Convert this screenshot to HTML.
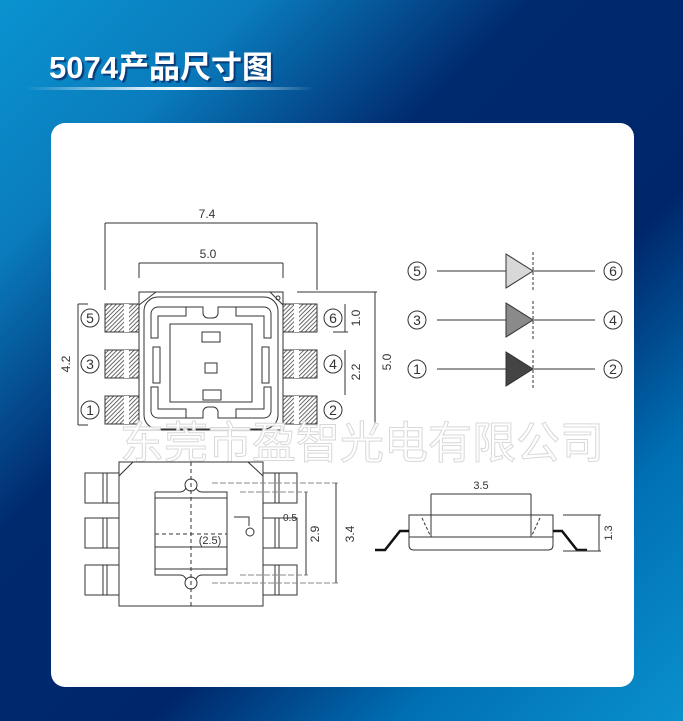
<!DOCTYPE html>
<html><head><meta charset="utf-8"><style>
html,body{margin:0;padding:0}
body{width:683px;height:721px;position:relative;overflow:hidden;font-family:"Liberation Sans","Noto Sans CJK SC",sans-serif;background:linear-gradient(135deg,#0a93d0 0%,#0a7cbd 18%,#002a6e 38%,#00266a 62%,#0070b4 80%,#0a90cc 100%)}
.title{position:absolute;left:49px;top:42px;font-size:31px;font-weight:bold;color:#fff;text-shadow:2px 2px 1px #0a3a78;font-family:"Liberation Sans","Noto Sans CJK SC",sans-serif}
.uline{position:absolute;left:25px;top:87px;width:290px;height:3px;background:linear-gradient(90deg,rgba(255,255,255,0),#cfe9f7 40%,#fff 55%,rgba(255,255,255,0))}
.card{position:absolute;left:51px;top:123px;width:583px;height:564px;background:#fff;border-radius:14px}
svg{position:absolute;left:0;top:0}
</style></head><body>
<div class="title">5074产品尺寸图</div>
<div class="uline"></div>
<div class="card"></div>
<svg width="683" height="721" viewBox="0 0 683 721">
<defs>
<pattern id="h" width="3" height="3" patternUnits="userSpaceOnUse" patternTransform="rotate(45)"><rect width="3" height="3" fill="#fff"/><line x1="0" y1="0" x2="0" y2="3" stroke="#444" stroke-width="1.6"/></pattern>
</defs>
<g fill="none" stroke="#333" stroke-width="1" font-family="Liberation Sans,sans-serif">
<line x1="105" y1="223" x2="317" y2="223"/><line x1="105" y1="223" x2="105" y2="290"/><line x1="317" y1="223" x2="317" y2="290"/>
<line x1="139" y1="263" x2="283" y2="263"/><line x1="139" y1="263" x2="139" y2="278"/><line x1="283" y1="263" x2="283" y2="278"/>
<text x="207" y="218" font-size="12" fill="#333" stroke="none" text-anchor="middle">7.4</text>
<text x="208" y="258" font-size="12" fill="#333" stroke="none" text-anchor="middle">5.0</text>
<g>
<rect x="105" y="304" width="34" height="28" fill="url(#h)"/><rect x="124" y="304" width="5" height="28" fill="#fff" stroke="none"/>
<rect x="105" y="350" width="34" height="28" fill="url(#h)"/><rect x="124" y="350" width="5" height="28" fill="#fff" stroke="none"/>
<rect x="105" y="396" width="34" height="28" fill="url(#h)"/><rect x="124" y="396" width="5" height="28" fill="#fff" stroke="none"/>
<rect x="283" y="304" width="34" height="28" fill="url(#h)"/><rect x="294" y="304" width="5" height="28" fill="#fff" stroke="none"/>
<rect x="283" y="350" width="34" height="28" fill="url(#h)"/><rect x="294" y="350" width="5" height="28" fill="#fff" stroke="none"/>
<rect x="283" y="396" width="34" height="28" fill="url(#h)"/><rect x="294" y="396" width="5" height="28" fill="#fff" stroke="none"/>
</g>
<rect x="139" y="292" width="144" height="138" fill="#fff"/>
<line x1="139" y1="305" x2="156" y2="292"/><line x1="270" y1="292" x2="283" y2="305"/>
<circle cx="278" cy="298" r="2"/>
<rect x="144" y="297" width="134" height="132" rx="14"/>
<path d="M186 307 H158 a7 7 0 0 0 -7 7 V338 h7 V316 H186 Z"/>
<path d="M236 307 H264 a7 7 0 0 1 7 7 V338 h-7 V316 H236 Z"/>
<path d="M186 418 H158 a7 7 0 0 1 -7 -7 V387 h7 V409 H186 Z"/>
<path d="M236 418 H264 a7 7 0 0 0 7 -7 V387 h-7 V409 H236 Z"/>
<path d="M186 307 H203 V313 a5 5 0 0 0 5 5 h5 a5 5 0 0 0 5 -5 V307 H236"/>
<path d="M186 418 H203 V412 a5 5 0 0 1 5 -5 h5 a5 5 0 0 1 5 5 V418 H236"/>
<rect x="170" y="324" width="82" height="78"/>
<rect x="153" y="347" width="7" height="36"/><rect x="262" y="347" width="7" height="36"/>
<rect x="202" y="332" width="18" height="10"/><rect x="205" y="363" width="12" height="10"/><rect x="203" y="390" width="18" height="10"/>
<g font-size="14" fill="#333" stroke="none" text-anchor="middle">
<text x="90" y="323">5</text><text x="90" y="369">3</text><text x="90" y="415">1</text>
<text x="333" y="323">6</text><text x="333" y="369">4</text><text x="333" y="415">2</text>
</g>
<circle cx="90" cy="318" r="9"/><circle cx="90" cy="364" r="9"/><circle cx="90" cy="410" r="9"/>
<circle cx="333" cy="318" r="9"/><circle cx="333" cy="364" r="9"/><circle cx="333" cy="410" r="9"/>
<line x1="78" y1="304" x2="78" y2="425"/><line x1="78" y1="304" x2="88" y2="304"/><line x1="78" y1="425" x2="88" y2="425"/>
<text transform="translate(70,364) rotate(-90)" font-size="12" fill="#333" stroke="none" text-anchor="middle">4.2</text>
<line x1="345" y1="304" x2="345" y2="332"/><line x1="345" y1="350" x2="345" y2="395"/><line x1="333" y1="332" x2="348" y2="332"/>
<text transform="translate(360,318) rotate(-90)" font-size="12" fill="#333" stroke="none" text-anchor="middle">1.0</text>
<text transform="translate(360,372) rotate(-90)" font-size="12" fill="#333" stroke="none" text-anchor="middle">2.2</text>
<line x1="297" y1="292" x2="377" y2="292"/><line x1="375" y1="292" x2="375" y2="430"/>
<text transform="translate(391,362) rotate(-90)" font-size="12" fill="#333" stroke="none" text-anchor="middle">5.0</text>
<g font-size="14" fill="#333" stroke="none" text-anchor="middle">
<text x="417" y="276">5</text><text x="417" y="325">3</text><text x="417" y="374">1</text>
<text x="613" y="276">6</text><text x="613" y="325">4</text><text x="613" y="374">2</text>
</g>
<circle cx="417" cy="271" r="9"/><circle cx="417" cy="320" r="9"/><circle cx="417" cy="369" r="9"/>
<circle cx="613" cy="271" r="9"/><circle cx="613" cy="320" r="9"/><circle cx="613" cy="369" r="9"/>
<line x1="437" y1="271" x2="595" y2="271"/><line x1="437" y1="320" x2="595" y2="320"/><line x1="437" y1="369" x2="595" y2="369"/>
<polygon points="506,254 533,271 506,288" fill="#d8d8d8"/>
<polygon points="506,303 533,320 506,337" fill="#8a8a8a"/>
<polygon points="506,352 533,369 506,386" fill="#444"/>
<g stroke-dasharray="3,2"><line x1="533" y1="252" x2="533" y2="290"/><line x1="533" y1="301" x2="533" y2="339"/><line x1="533" y1="350" x2="533" y2="388"/></g>
</g>
<text x="362" y="458" font-size="44" font-family="Noto Sans CJK SC,sans-serif" fill="#fff" stroke="#d4d4d4" stroke-width="1" text-anchor="middle" opacity="0.9">东莞市盈智光电有限公司</text>
<g fill="none" stroke="#333" stroke-width="1" font-family="Liberation Sans,sans-serif">
<rect x="85" y="473" width="34" height="30"/><rect x="85" y="518" width="34" height="30"/><rect x="85" y="565" width="34" height="30"/>
<line x1="103" y1="473" x2="103" y2="503"/><line x1="107" y1="473" x2="107" y2="503"/>
<line x1="103" y1="518" x2="103" y2="548"/><line x1="107" y1="518" x2="107" y2="548"/>
<line x1="103" y1="565" x2="103" y2="595"/><line x1="107" y1="565" x2="107" y2="595"/>
<rect x="263" y="473" width="34" height="30"/><rect x="263" y="518" width="34" height="30"/><rect x="263" y="565" width="34" height="30"/>
<line x1="275" y1="473" x2="275" y2="503"/><line x1="279" y1="473" x2="279" y2="503"/>
<line x1="275" y1="518" x2="275" y2="548"/><line x1="279" y1="518" x2="279" y2="548"/>
<line x1="275" y1="565" x2="275" y2="595"/><line x1="279" y1="565" x2="279" y2="595"/>
<rect x="119" y="462" width="144" height="144" fill="#fff"/>
<line x1="119" y1="476" x2="133" y2="462"/><line x1="248" y1="462" x2="263" y2="476"/>
<path d="M155 492 H180 q4 0 6 -4 M196 488 q2 4 6 4 H227 V575 H202 q-4 0 -6 4 M186 579 q-2 -4 -6 -4 H155 V492"/>
<line x1="155" y1="498" x2="227" y2="498"/><line x1="155" y1="569" x2="227" y2="569"/>
<circle cx="191" cy="485" r="6"/><circle cx="191" cy="583" r="6"/><circle cx="250" cy="532" r="4"/>
<path d="M234 517 H249 V526"/>
<g stroke-dasharray="4,3"><line x1="191" y1="462" x2="191" y2="606"/><line x1="155" y1="534" x2="227" y2="534"/></g>
<line x1="155" y1="547" x2="227" y2="547"/>
<text x="210" y="544" font-size="11" fill="#333" stroke="none" text-anchor="middle">(2.5)</text>
<line x1="263" y1="518" x2="279" y2="518"/><text x="283" y="521" font-size="10" fill="#333" stroke="none">0.5</text>
<g stroke="#888" stroke-dasharray="6,2"><line x1="212" y1="483" x2="338" y2="483"/><line x1="212" y1="583" x2="338" y2="583"/><line x1="240" y1="492" x2="308" y2="492"/><line x1="240" y1="575" x2="308" y2="575"/></g>
<line x1="306" y1="492" x2="306" y2="575"/><line x1="336" y1="483" x2="336" y2="583"/>
<text transform="translate(319,534) rotate(-90)" font-size="12" fill="#333" stroke="none" text-anchor="middle">2.9</text>
<text transform="translate(354,534) rotate(-90)" font-size="12" fill="#333" stroke="none" text-anchor="middle">3.4</text>
<line x1="431" y1="494" x2="531" y2="494"/><line x1="431" y1="494" x2="431" y2="537"/><line x1="531" y1="494" x2="531" y2="537"/>
<text x="481" y="489" font-size="11" fill="#333" stroke="none" text-anchor="middle">3.5</text>
<path d="M409 515 H553 V545 q0 5 -5 5 H414 q-5 0 -5 -5 Z"/>
<line x1="409" y1="537" x2="553" y2="537"/>
<g stroke-dasharray="3,2"><line x1="422" y1="518" x2="430" y2="535"/><line x1="540" y1="518" x2="532" y2="535"/></g>
<path d="M409 531 H400 L385 550 H375" stroke="#111" stroke-width="2.5"/>
<path d="M553 531 H562 L577 550 H587" stroke="#111" stroke-width="2.5"/>
<line x1="563" y1="515" x2="601" y2="515"/><line x1="563" y1="551" x2="601" y2="551"/><line x1="599" y1="515" x2="599" y2="551"/>
<text transform="translate(612,533) rotate(-90)" font-size="11" fill="#333" stroke="none" text-anchor="middle">1.3</text>
</g>
</svg>
</body></html>
